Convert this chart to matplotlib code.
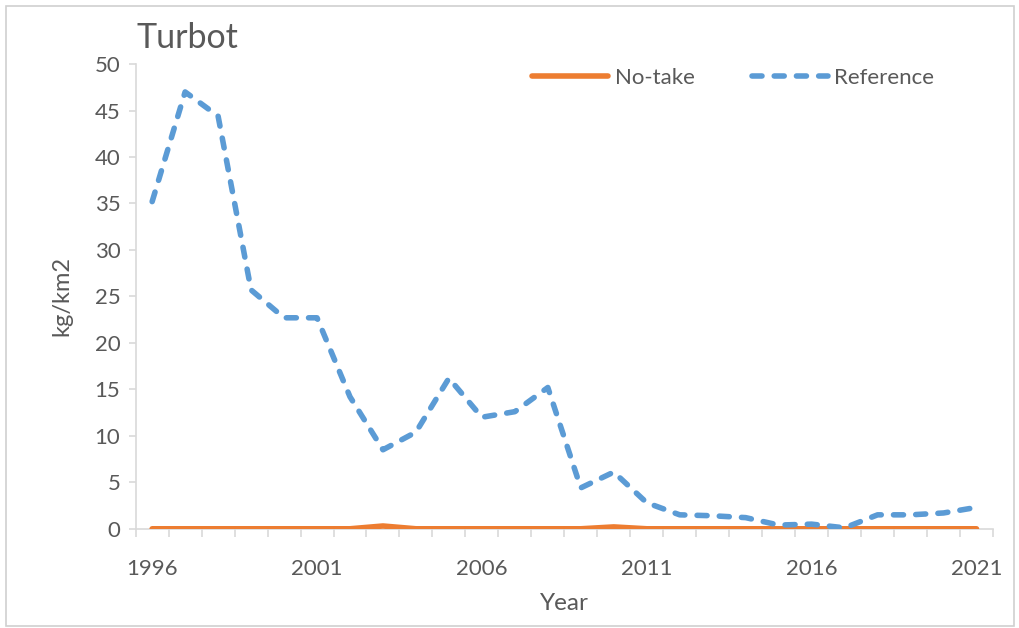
import matplotlib
matplotlib.use("Agg")
import matplotlib.pyplot as plt
from matplotlib.patches import Rectangle

plt.rcParams["font.family"] = ["Lato", "DejaVu Sans"]

years = list(range(1996, 2022))
no_take = [0, 0, 0, 0, 0, 0, 0, 0.3, 0, 0, 0, 0, 0, 0, 0.2, 0,
           0, 0, 0, 0, 0, 0, 0, 0, 0, 0]
reference = [35.2, 47.0, 44.4, 25.7, 22.7, 22.7, 14.2, 8.5, 10.4, 16.2,
             12.0, 12.6, 15.2, 4.4, 6.1, 2.8, 1.5, 1.4, 1.2, 0.4,
             0.5, 0.1, 1.5, 1.5, 1.7, 2.3]
xtick_years = [1996, 2001, 2006, 2011, 2016, 2021]

text_col = "#595959"
axis_col = "#D9D9D9"

fig = plt.figure(figsize=(10.2, 6.28), dpi=100)
fig.patches.append(Rectangle((0.006, 0.003), 0.988, 0.988, transform=fig.transFigure,
                             fill=False, edgecolor="#D0D0D0", linewidth=1.2))
ax = fig.add_axes([0.133, 0.158, 0.8405, 0.740])

ax.plot(years, no_take, color="#ED7D31", linewidth=4.0, solid_capstyle="round",
        label="No-take", zorder=3)
ax.plot(years, reference, color="#5B9BD5", linewidth=4.0, linestyle=(0, (1.8, 2.2)),
        dash_capstyle="round", label="Reference", zorder=3)

ax.set_xlim(1995.5, 2021.5)
ax.set_ylim(0, 50)
ax.set_yticks(range(0, 51, 5))
ax.set_xticks(xtick_years)
ax.set_xticks([y + 0.5 for y in range(1995, 2022)], minor=True)
ax.tick_params(axis="x", which="major", length=0, pad=22)
ax.tick_params(axis="x", which="minor", length=6, color=axis_col, width=1.2, direction="out")
ax.tick_params(axis="y", length=5, color=axis_col, width=1.2, pad=6)
ax.tick_params(labelsize=16, labelcolor=text_col)

for side in ["top", "right"]:
    ax.spines[side].set_visible(False)
for side in ["left", "bottom"]:
    ax.spines[side].set_color(axis_col)
    ax.spines[side].set_linewidth(1.2)

ax.set_xlabel("Year", fontsize=17.5, color=text_col, labelpad=10)
ax.set_ylabel("kg/km2", fontsize=17, color=text_col, labelpad=16)
fig.text(0.134, 0.94, "Turbot", fontsize=24.5, color=text_col, va="center", ha="left")

leg = ax.legend(loc="upper right", bbox_to_anchor=(0.955, 1.035), ncol=2, frameon=False,
                fontsize=16, handlelength=3.4, handletextpad=0.3, columnspacing=2.6)
for t in leg.get_texts():
    t.set_color(text_col)

fig.savefig("out.png", dpi=100)
